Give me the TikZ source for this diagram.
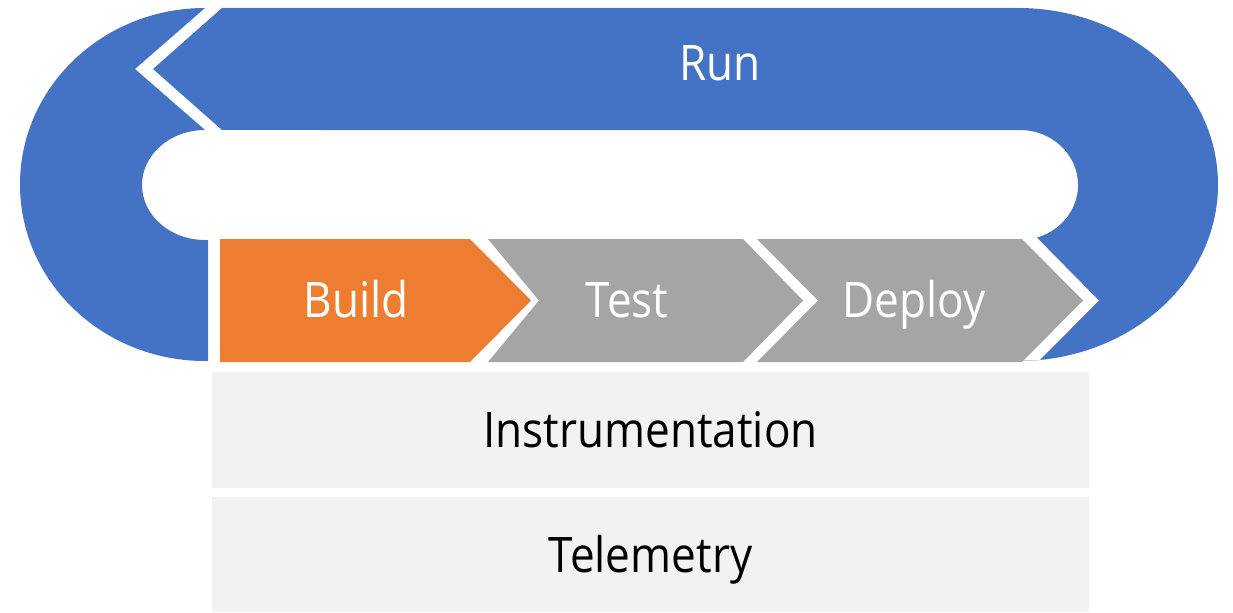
\documentclass[tikz,border=0pt]{standalone}
\usepackage{fontspec}
\setmainfont[FakeStretch=0.9]{Open Sans}
\definecolor{runblue}{HTML}{4472C4}
\definecolor{buildorange}{HTML}{ED7D31}
\definecolor{stagegray}{HTML}{A5A5A5}
\definecolor{layergray}{HTML}{F2F2F2}
\newcommand{\stagefont}{\fontsize{24.5pt}{29pt}\selectfont}
\tikzset{%
  band/.style      = {fill=runblue},%
  buildstep/.style = {fill=buildorange},%
  stepgray/.style  = {fill=stagegray},%
  steptext/.style  = {inner sep=0pt, text=white, font=\stagefont,%
                      text height=17.5pt, text depth=0pt},%
  layer/.style     = {rectangle, fill=layergray, inner sep=0pt,%
                      font=\stagefont, text height=17.5pt, text depth=0pt,%
                      minimum width=438.5pt}%
}

\begin{document}
\begin{tikzpicture}[x=0.5pt,y=0.5pt]
	\useasboundingbox (0,0) rectangle (1233,612);
	% run loop, left half
	\fill[band] (205,604) -- (135,543) -- (205,482)
		arc[start angle=90, end angle=270, x radius=63, y radius=55]
		-- (208,372) -- (208,251) -- (205,251)
		arc[start angle=270, end angle=90, x radius=185, y radius=176.5] -- cycle;
	% run loop, arrow and right half
	\fill[band] (153,543) -- (222,604) -- (1018,604)
		arc[start angle=90, end angle=-90, x radius=200, y radius=176.5]
		-- (1040,252) -- (1099,311.5) -- (1037,374.4)
		arc[start angle=-73, end angle=90, x radius=58, y radius=55]
		-- (222,482) -- cycle;
	% stages
	\fill[buildstep] (220,373) -- (470,373) -- (531,311.5) -- (470,250) -- (220,250) -- cycle;
	\fill[stepgray] (488,373) -- (743,373) -- (803,311.5) -- (743,250) -- (488,250) -- (539,311.5) -- cycle;
	\fill[stepgray] (757,373) -- (1022,373) -- (1083,311.5) -- (1022,250) -- (757,250) -- (818,311.5) -- cycle;
	\node[steptext] (run)    at (720,548.5) {Run};
	\node[steptext] (build)  at (356,312.5) {Build};
	\node[steptext] (test)   at (627,312.5) {Test};
	\node[steptext] (deploy) at (914,312.5) {Deploy};
	% layers below
	\node[layer, minimum height=58pt]   (instr) at (650.5,182)  {Instrumentation};
	\node[layer, minimum height=57.5pt] (telem) at (650.5,57.5) {Telemetry};
\end{tikzpicture}
\end{document}
